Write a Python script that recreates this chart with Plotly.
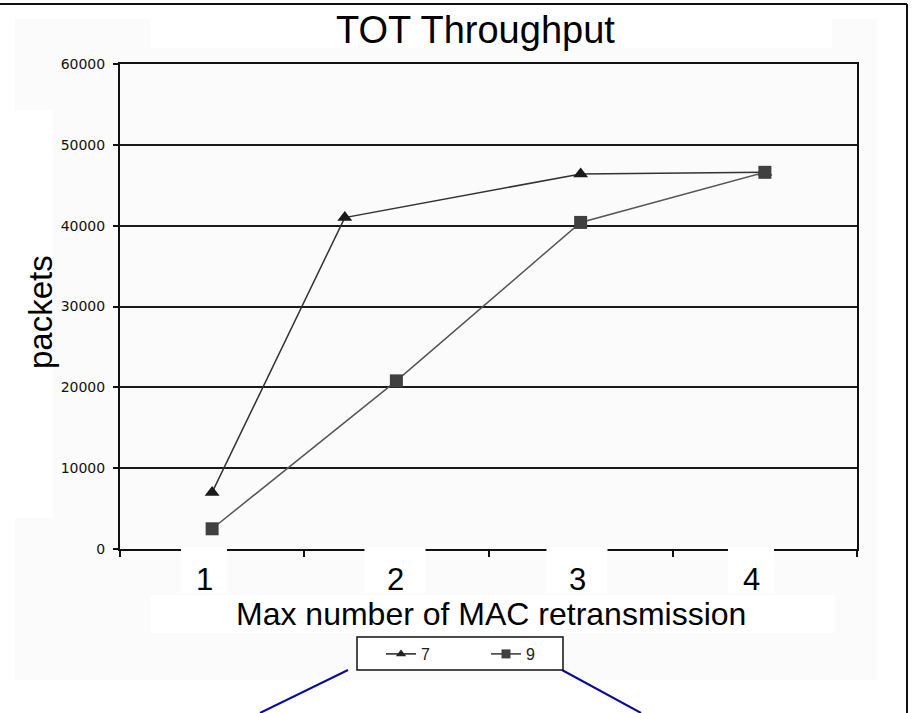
import plotly.graph_objects as go

# ---- data ----
x_tick_labels = ["1", "2", "3", "4"]
series_names = ["7", "9"]
series7_x = [1.0, 1.72, 3.0, 4.0]
series7_y = [7000, 41000, 46400, 46600]
series9_x = [1, 2, 3, 4]
series9_y = [2500, 20800, 40400, 46600]
y_ticks = [0, 10000, 20000, 30000, 40000, 50000, 60000]

W, H = 912, 713
L, R, T, B = 120, 857, 64, 549
FONT = "Liberation Sans, Arial, sans-serif"


def px(x):
    return (x - L) / (R - L)


def py(y):
    return (B - y) / (B - T)


fig = go.Figure()

fig.add_trace(go.Scatter(
    x=series7_x, y=series7_y, mode="lines+markers", name=series_names[0],
    line=dict(color="#333333", width=1.5),
    marker=dict(symbol="triangle-up", size=13, color="#1a1a1a"),
    showlegend=False))
fig.add_trace(go.Scatter(
    x=series9_x, y=series9_y, mode="lines+markers", name=series_names[1],
    line=dict(color="#555555", width=1.5),
    marker=dict(symbol="square", size=13, color="#404040"),
    showlegend=False))
# legend entries with small symbols
fig.add_trace(go.Scatter(
    x=[None], y=[None], mode="lines+markers", name=series_names[0],
    line=dict(color="#222222", width=1.5),
    marker=dict(symbol="triangle-up", size=9, color="#222222")))
fig.add_trace(go.Scatter(
    x=[None], y=[None], mode="lines+markers", name=series_names[1],
    line=dict(color="#333333", width=1.5),
    marker=dict(symbol="square", size=9, color="#404040")))

shapes = []
# light background of the chart area
shapes.append(dict(type="rect", xref="paper", yref="paper",
                   x0=px(15), x1=px(877), y0=py(680), y1=py(19),
                   fillcolor="#fbfbfb", line=dict(width=0), layer="below"))


def white_box(x0, y0, x1, y1):
    shapes.append(dict(type="rect", xref="paper", yref="paper",
                       x0=px(x0), x1=px(x1), y0=py(y1), y1=py(y0),
                       fillcolor="white", line=dict(width=0), layer="above"))


white_box(150, 5, 832, 48)       # title box
white_box(15, 110, 53, 518)      # y title box
tick_label_px = [204, 395, 577, 751]
tick_box_w = [46, 61, 61, 46]
for cx, w in zip(tick_label_px, tick_box_w):
    white_box(cx - w / 2, 547, cx + w / 2, 593)
white_box(150, 595, 835, 633)    # x title box

# legend frame
shapes.append(dict(type="rect", xref="paper", yref="paper",
                   x0=px(357), x1=px(563), y0=py(670), y1=py(637),
                   fillcolor="white", line=dict(color="#111111", width=1.5),
                   layer="above"))

# outer border
shapes.append(dict(type="line", xref="paper", yref="paper",
                   x0=px(0), x1=px(907), y0=py(4), y1=py(4),
                   line=dict(color="#111111", width=2), layer="above"))
shapes.append(dict(type="line", xref="paper", yref="paper",
                   x0=px(907), x1=px(907), y0=py(4), y1=py(713),
                   line=dict(color="#111111", width=2), layer="above"))
# blue callout lines
shapes.append(dict(type="line", xref="paper", yref="paper",
                   x0=px(348), x1=px(260), y0=py(670), y1=py(713),
                   line=dict(color="#0a0a96", width=2), layer="above"))
shapes.append(dict(type="line", xref="paper", yref="paper",
                   x0=px(562), x1=px(641), y0=py(670), y1=py(713),
                   line=dict(color="#0a0a96", width=2), layer="above"))

annotations = [
    dict(text="TOT Throughput", x=px(475), y=py(30), xref="paper", yref="paper",
         xanchor="center", yanchor="middle", showarrow=False,
         font=dict(family=FONT, size=38, color="black")),
    dict(text="packets", x=px(40), y=py(312), xref="paper", yref="paper",
         xanchor="center", yanchor="middle", showarrow=False, textangle=-90,
         font=dict(family=FONT, size=33, color="black")),
    dict(text="Max number of MAC retransmission", x=px(491), y=py(614),
         xref="paper", yref="paper", xanchor="center", yanchor="middle",
         showarrow=False, font=dict(family=FONT, size=32, color="black")),
]
for lab, cx in zip(x_tick_labels, tick_label_px):
    annotations.append(dict(text=lab, x=px(cx), y=py(579), xref="paper", yref="paper",
                            xanchor="center", yanchor="middle", showarrow=False,
                            font=dict(family=FONT, size=31, color="black")))

fig.update_layout(
    width=W, height=H,
    margin=dict(l=L, r=W - R, t=T, b=H - B, pad=0),
    paper_bgcolor="white", plot_bgcolor="rgba(0,0,0,0)",
    shapes=shapes, annotations=annotations,
    legend=dict(orientation="h", x=px(381), y=py(637), xanchor="left", yanchor="top",
                bgcolor="rgba(0,0,0,0)", borderwidth=0,
                font=dict(family=FONT, size=16, color="#222222"),
                entrywidth=60, itemwidth=30),
    xaxis=dict(range=[0.5, 4.5], tickvals=[0.5, 1.5, 2.5, 3.5, 4.5],
               ticktext=["", "", "", "", ""], ticks="outside", ticklen=6,
               tickwidth=1.5, tickcolor="#111111",
               showline=True, linecolor="#111111", linewidth=2, mirror=True,
               showgrid=False, zeroline=False, fixedrange=True),
    yaxis=dict(range=[0, 60000], tickvals=y_ticks, tickformat="d",
               ticks="outside", ticklen=5, tickwidth=1.5, tickcolor="#111111",
               showline=True, linecolor="#111111", linewidth=2, mirror=True,
               showgrid=True, gridcolor="#1a1a1a", gridwidth=1.5, zeroline=False,
               tickfont=dict(family="DejaVu Sans, sans-serif", size=14, color="#111111"),
               ticklabelstandoff=5, fixedrange=True),
)

fig.write_html("out.html")
